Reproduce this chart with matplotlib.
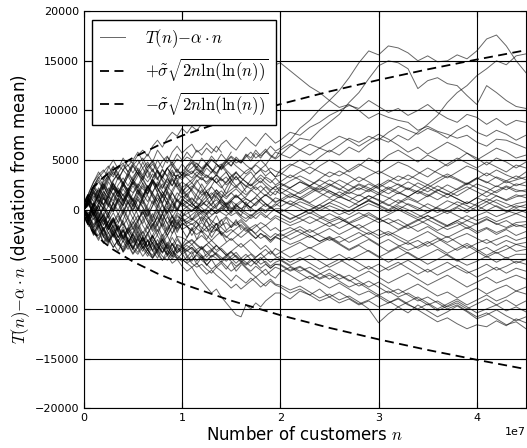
import matplotlib
matplotlib.use("Agg")
import matplotlib.pyplot as plt
import numpy as np

plt.rcParams['mathtext.fontset'] = 'cm'
plt.rcParams['font.family'] = ['DejaVu Sans']

# sample positions (millions of customers)
n_millions = [0, 0.5, 1, 1.5, 2, 2.5, 3, 3.5, 4, 4.5, 5, 5.5, 6, 6.5, 7, 7.5, 8, 8.5, 9, 9.5, 10,
              10.5, 11, 11.5, 12, 12.5, 13, 13.5, 14, 14.5, 15, 15.5, 16, 16.5, 17, 17.5, 18, 18.5, 19, 19.5, 20,
              21, 22, 23, 24, 25, 26, 27, 28, 29, 30, 31, 32, 33, 34, 35, 36, 37, 38, 39, 40,
              41, 42, 43, 44, 45]

# deviations T(n) - alpha*n of each simulated run, in hundreds
walk_01 = [0, 12, 22, 16, 30, 38, 33, 44, 40, 50, 47, 55, 60, 54, 64, 70, 63, 72, 78, 74, 82,
           77, 84, 80, 86, 90, 85, 94, 102, 98, 108, 116, 112, 122, 130, 126, 135, 142, 138, 146, 148,
           140, 132, 124, 118, 110, 103, 106, 100, 92, 97, 93, 90, 88, 80, 84, 79, 76, 72, 75, 68, 64, 71, 70, 66, 62]
walk_02 = [0, -8, 2, 10, 5, 14, 9, 20, 14, 22, 17, 26, 21, 16, 28, 23, 33, 27, 38, 31, 35,
           40, 36, 44, 38, 47, 41, 36, 45, 50, 44, 53, 48, 56, 52, 60, 54, 58, 64, 59, 62,
           70, 82, 90, 101, 110, 120, 133, 148, 160, 156, 165, 163, 158, 150, 155, 149, 150, 156, 152, 160, 172, 176, 165, 150, 138]
walk_03 = [0, 9, -3, -12, -6, 4, -2, 10, 4, 15, 9, 20, 13, 24, 17, 28, 21, 31, 24, 35, 30,
           36, 32, 38, 34, 42, 37, 46, 40, 48, 44, 51, 47, 55, 49, 57, 52, 59, 54, 51, 55,
           64, 72, 70, 80, 88, 96, 108, 118, 132, 145, 150, 148, 142, 122, 130, 133, 127, 125, 115, 106, 125, 118, 110, 104, 102]
walk_04 = [0, 14, 24, 18, 28, 34, 24, 17, 27, 36, 29, 38, 30, 22, 31, 40, 33, 42, 46, 37, 38,
           44, 47, 40, 36, 32, 38, 43, 46, 40, 35, 30, 34, 39, 42, 36, 41, 45, 38, 33, 35,
           44, 50, 45, 53, 60, 55, 63, 58, 66, 72, 68, 75, 70, 78, 86, 95, 108, 118, 125, 135, 142, 150, 146, 155, 157]
walk_05 = [0, 16, 28, 38, 30, 42, 50, 41, 52, 44, 50, 58, 49, 56, 48, 60, 53, 47, 58, 64, 57,
           62, 66, 58, 61, 67, 62, 58, 66, 70, 64, 60, 67, 73, 68, 64, 71, 77, 72, 67, 70,
           78, 75, 83, 88, 95, 100, 105, 102, 110, 104, 98, 102, 95, 100, 106, 98, 92, 88, 96, 93, 86, 92, 85, 90, 88]
walk_06 = [0, -6, 6, 16, 10, 22, 15, 25, 32, 24, 33, 40, 32, 22, 30, 24, 35, 42, 33, 41, 34,
           38, 42, 47, 41, 44, 50, 46, 42, 48, 53, 47, 50, 45, 41, 46, 50, 45, 52, 58, 56,
           52, 60, 66, 62, 58, 65, 72, 68, 74, 70, 78, 84, 80, 76, 82, 78, 72, 80, 85, 78, 74, 80, 76, 70, 75]
walk_07 = [0, 10, 4, 17, 26, 19, 30, 36, 27, 19, 28, 22, 31, 40, 32, 40, 30, 24, 34, 28, 36,
           32, 27, 34, 40, 46, 41, 37, 44, 49, 54, 50, 47, 53, 58, 52, 56, 61, 55, 52, 60,
           66, 60, 55, 62, 68, 74, 70, 64, 70, 76, 71, 65, 58, 63, 56, 62, 68, 63, 57, 50, 56, 62, 58, 52, 55]
walk_08 = [0, -10, -3, 7, 1, -8, 2, 12, 4, 15, 24, 16, 27, 19, 29, 21, 12, 22, 31, 23, 28,
           24, 20, 28, 33, 26, 32, 27, 33, 38, 30, 24, 28, 23, 30, 36, 40, 34, 38, 33, 40,
           46, 42, 36, 44, 50, 45, 38, 44, 52, 47, 55, 60, 54, 48, 55, 50, 44, 50, 57, 52, 45, 52, 48, 42, 48]
walk_09 = [0, 8, 19, 12, 23, 15, 26, 19, 9, 17, 27, 18, 10, 20, 31, 22, 14, 24, 17, 27, 18,
           23, 27, 21, 17, 24, 30, 35, 29, 33, 26, 22, 28, 34, 38, 31, 27, 33, 30, 25, 28,
           35, 30, 24, 31, 38, 34, 40, 46, 41, 36, 42, 48, 44, 38, 33, 40, 46, 52, 47, 42, 48, 43, 38, 45, 42]
walk_10 = [0, 7, -5, 4, 16, 8, 0, 11, 21, 13, 4, 13, 6, 16, 27, 18, 26, 16, 7, 17, 12,
           16, 20, 14, 9, 4, 10, 15, 19, 13, 17, 12, 16, 22, 26, 20, 24, 19, 14, 19, 16,
           22, 28, 24, 30, 25, 20, 27, 33, 28, 22, 28, 34, 30, 36, 42, 37, 32, 38, 44, 40, 34, 40, 35, 31, 38]
walk_11 = [0, -6, 7, 0, 12, 5, 17, 8, -2, 10, 3, 14, 24, 14, 6, 17, 7, 19, 11, 1, 11,
           7, 3, 9, 14, 18, 12, 17, 10, 6, 11, 15, 10, 13, 19, 23, 18, 14, 19, 24, 18,
           12, 18, 24, 20, 26, 21, 16, 22, 18, 24, 30, 25, 20, 27, 22, 28, 34, 30, 25, 31, 37, 32, 27, 30, 33]
walk_12 = [0, 10, 3, -9, 2, 13, 6, -5, 6, 17, 9, 0, 12, 22, 13, 2, 14, 5, 17, 8, 14,
           10, 6, 2, 8, 13, 17, 12, 8, 3, 9, 14, 10, 5, 2, 7, 11, 6, 1, 4, 8,
           14, 10, 16, 22, 17, 12, 18, 14, 20, 26, 21, 16, 22, 18, 13, 19, 25, 20, 26, 32, 28, 23, 29, 24, 28]
walk_13 = [0, -9, 2, -6, -15, -5, 7, -1, 10, 1, 12, 4, -5, 5, 17, 8, -3, 9, -1, 11, 5,
           9, 12, 7, 4, 10, 15, 20, 15, 11, 17, 21, 16, 11, 8, 13, 18, 23, 18, 15, 22,
           17, 12, 18, 24, 19, 14, 20, 26, 22, 17, 23, 18, 13, 19, 25, 20, 15, 21, 27, 22, 18, 24, 20, 26, 24]
walk_14 = [0, 6, 17, 9, 0, 10, 22, 13, 24, 34, 25, 34, 42, 32, 41, 32, 22, 32, 40, 30, 22,
           26, 30, 35, 31, 28, 33, 27, 22, 28, 34, 38, 32, 28, 24, 30, 35, 31, 27, 32, 27,
           22, 28, 23, 18, 24, 30, 25, 20, 26, 21, 16, 22, 28, 23, 18, 24, 19, 14, 20, 26, 22, 17, 23, 18, 20]
walk_15 = [0, -5, -15, -7, 4, -5, 6, 15, 6, 17, 8, -1, 10, 2, -8, 4, -4, 8, 17, 9, 3,
           7, 11, 6, 2, -3, 1, 6, 10, 5, 9, 14, 10, 5, 2, 6, 11, 15, 12, 8, 10,
           5, 11, 6, 1, 7, 13, 9, 4, 10, 16, 12, 7, 13, 19, 15, 10, 16, 11, 6, 12, 18, 14, 9, 13, 15]
walk_16 = [0, 13, 24, 33, 24, 36, 44, 34, 23, 34, 45, 36, 48, 38, 27, 38, 29, 19, 30, 22, 15,
           19, 24, 20, 15, 19, 23, 17, 12, 16, 20, 24, 19, 15, 20, 16, 11, 15, 11, 7, 10,
           16, 12, 7, 13, 19, 14, 9, 15, 10, 5, 11, 17, 13, 8, 14, 20, 16, 11, 6, 12, 8, 14, 10, 15, 12]
walk_17 = [0, -7, -18, -10, -22, -12, -3, -13, -3, 8, -1, 11, 3, -7, 4, 15, 6, -3, 8, 0, 7,
           3, -1, 4, -2, 1, 6, 10, 5, 2, -2, 3, 7, 11, 8, 4, 10, 6, 2, 6, 3,
           9, 4, -1, 5, 11, 7, 2, 8, 14, 10, 5, 0, 6, 2, -3, 3, 9, 5, 0, 6, 11, 7, 2, 6, 8]
walk_18 = [0, 10, 2, 14, 5, -4, 7, 19, 9, 20, 10, 1, 13, 24, 14, 4, 15, 6, -3, 10, 5,
           2, -2, 3, 7, 4, 0, -4, 1, 5, 9, 5, 1, 4, 9, 12, 7, 3, 7, 12, 10,
           6, 1, -4, 2, 7, 3, -2, 4, 9, 5, 0, 6, 11, 7, 2, -3, 2, 8, 4, -1, 5, 10, 6, 2, 5]
walk_19 = [0, 6, -7, 4, -9, -18, -8, -20, -10, 1, -9, 2, -8, -19, -9, 1, -9, -20, -12, -3, -7,
           -4, -1, 3, -1, -5, -1, 4, 8, 4, 1, 5, 9, 6, 2, -2, 2, 6, 3, -1, -3,
           3, 8, 4, -1, 4, 0, -5, 1, 6, 2, -3, 2, -3, -8, -3, 2, -2, 3, 8, 4, -1, 4, -1, -4, 0]
walk_20 = [0, -11, -3, -15, -26, -16, -28, -17, -30, -19, -8, -20, -10, 1, -11, -22, -12, -2, -14, -5, -12,
           -9, -5, -1, -5, -10, -6, -2, 2, -2, -6, -3, -8, -12, -7, -3, 1, -3, 2, -1, -4,
           -9, -5, 0, 5, 0, -5, -1, 4, 9, 4, -1, 4, 0, -5, -10, -6, -1, -6, -11, -6, -2, -7, -3, 1, -3]
walk_21 = [0, 9, 20, 11, 23, 33, 22, 13, 25, 16, 5, 17, 8, -3, 9, -1, -11, 2, -6, -14, -1,
           3, 6, 2, -3, 0, -5, -2, 3, 7, 2, -2, -6, -9, -5, -9, -4, -8, -3, 1, 1,
           -4, -9, -14, -9, -4, -9, -14, -10, -5, -10, -5, 0, -5, -10, -6, -11, -16, -11, -6, -11, -7, -12, -8, -4, -8]
walk_22 = [0, -6, 7, -1, 12, 3, 15, 6, -4, 7, -3, -12, 0, -9, -18, -6, -17, -7, -16, -19, -10,
           -14, -11, -7, -3, -7, -11, -15, -11, -7, -12, -16, -12, -17, -21, -17, -13, -16, -12, -8, -11,
           -16, -12, -7, -12, -17, -13, -8, -3, -8, -13, -9, -14, -19, -15, -10, -15, -20, -16, -11, -15, -10, -14, -18, -13, -12]
walk_23 = [0, 12, 23, 14, 26, 17, 29, 37, 26, 16, 28, 37, 26, 16, 28, 17, 6, 18, 8, -1, 10,
           7, 3, 0, 5, 9, 4, 1, -3, -6, -2, 2, -2, -5, -9, -5, -2, -6, -10, -6, -8,
           -13, -8, -3, -8, -13, -9, -14, -19, -14, -9, -14, -20, -15, -10, -15, -21, -16, -11, -16, -22, -18, -23, -19, -15, -18]
walk_24 = [0, -14, -25, -14, -27, -35, -24, -36, -25, -35, -24, -15, -27, -37, -26, -15, -27, -18, -7, -19, -14,
           -17, -21, -17, -13, -18, -23, -20, -25, -21, -16, -12, -17, -22, -18, -15, -20, -24, -28, -24, -27,
           -22, -17, -23, -18, -13, -19, -14, -20, -25, -20, -26, -21, -16, -22, -17, -23, -28, -23, -18, -24, -19, -25, -20, -26, -22]
walk_25 = [0, 6, 17, 6, 19, 10, -1, 11, 2, -8, 5, -5, -14, -3, -16, -6, 5, -6, -17, -7, -9,
           -12, -15, -11, -7, -12, -17, -21, -16, -13, -18, -14, -10, -15, -20, -24, -19, -16, -21, -18, -22,
           -18, -23, -28, -24, -19, -25, -20, -15, -21, -26, -22, -27, -32, -27, -22, -28, -33, -28, -24, -29, -34, -30, -26, -31, -28]
walk_26 = [0, -8, 3, -9, -20, -11, -23, -14, -3, -15, -26, -17, -28, -37, -26, -36, -25, -36, -24, -13, -20,
           -17, -14, -19, -23, -18, -14, -19, -24, -28, -23, -19, -15, -20, -25, -29, -24, -27, -31, -27, -24,
           -30, -25, -20, -26, -31, -27, -33, -28, -23, -29, -24, -30, -35, -31, -37, -32, -27, -33, -39, -34, -30, -36, -31, -35, -33]
walk_27 = [0, 11, 0, -12, -3, -15, -26, -16, -28, -18, -29, -39, -28, -17, -29, -20, -31, -22, -11, -23, -13,
           -17, -21, -25, -21, -26, -31, -26, -22, -27, -31, -27, -23, -18, -24, -29, -24, -28, -33, -28, -30,
           -35, -31, -26, -32, -28, -34, -40, -35, -30, -36, -42, -37, -33, -39, -34, -29, -35, -41, -36, -42, -38, -44, -40, -35, -38]
walk_28 = [0, -17, -8, -22, -33, -23, -34, -42, -31, -40, -30, -20, -32, -23, -34, -25, -14, -26, -36, -27, -28,
           -31, -35, -30, -26, -31, -36, -41, -37, -33, -29, -34, -38, -34, -30, -35, -40, -36, -41, -46, -43,
           -38, -33, -39, -34, -29, -35, -41, -36, -42, -48, -43, -38, -44, -50, -45, -40, -46, -52, -47, -42, -48, -43, -49, -45, -45]
walk_29 = [0, 6, -6, -17, -8, -20, -11, -23, -33, -22, -34, -25, -36, -44, -33, -42, -31, -41, -47, -36, -38,
           -34, -31, -36, -40, -35, -31, -36, -41, -46, -42, -38, -34, -39, -44, -48, -44, -40, -45, -39, -42,
           -48, -43, -38, -44, -50, -45, -51, -46, -41, -47, -53, -48, -43, -49, -55, -50, -45, -51, -56, -52, -47, -53, -48, -54, -50]
walk_30 = [0, -11, -22, -31, -20, -33, -24, -34, -42, -31, -40, -30, -39, -47, -36, -45, -51, -41, -48, -38, -45,
           -41, -38, -43, -48, -52, -47, -43, -39, -44, -49, -54, -49, -45, -50, -55, -50, -46, -42, -47, -50,
           -56, -51, -46, -52, -58, -53, -48, -54, -60, -55, -61, -56, -51, -57, -63, -58, -53, -59, -64, -60, -55, -61, -57, -52, -55]
walk_31 = [0, -6, 6, -5, -16, -6, -19, -28, -17, -30, -39, -28, -39, -30, -41, -49, -38, -46, -35, -43, -40,
           -36, -40, -44, -39, -35, -40, -45, -50, -46, -42, -47, -52, -56, -52, -48, -44, -49, -53, -49, -47,
           -53, -48, -54, -60, -55, -50, -56, -62, -57, -63, -58, -53, -59, -65, -60, -66, -61, -56, -62, -68, -63, -58, -64, -59, -62]
walk_32 = [0, -11, -21, -11, -24, -32, -22, -32, -38, -28, -37, -43, -33, -41, -46, -37, -43, -35, -42, -46, -50,
           -54, -50, -46, -51, -55, -60, -56, -52, -57, -62, -58, -54, -59, -64, -68, -64, -60, -66, -69, -63,
           -58, -64, -70, -65, -60, -66, -72, -67, -62, -68, -74, -69, -64, -70, -76, -71, -66, -72, -78, -73, -68, -74, -70, -66, -70]
walk_33 = [0, -14, -26, -18, -34, -28, -38, -31, -43, -36, -45, -38, -47, -40, -49, -42, -51, -46, -54, -50, -57,
           -62, -58, -66, -72, -78, -84, -80, -88, -94, -100, -106, -108, -96, -100, -94, -98, -92, -88, -84, -84,
           -90, -82, -86, -80, -88, -94, -90, -96, -92, -98, -94, -90, -96, -100, -95, -102, -97, -92, -98, -104, -100, -96, -102, -98, -103]
walk_34 = [0, -9, 1, -10, -21, -12, -23, -32, -21, -31, -40, -29, -39, -31, -42, -34, -44, -36, -46, -49, -52,
           -48, -54, -58, -55, -60, -64, -58, -62, -67, -72, -66, -70, -74, -69, -73, -78, -74, -70, -75, -76,
           -81, -77, -83, -89, -85, -91, -87, -93, -100, -114, -105, -98, -104, -96, -102, -108, -103, -97, -103, -110, -106, -101, -107, -112, -108]
walk_35 = [0, -7, -18, -8, -20, -28, -17, -28, -20, -31, -38, -27, -36, -25, -35, -41, -30, -39, -28, -37, -43,
           -39, -35, -41, -46, -51, -46, -49, -53, -48, -52, -57, -53, -58, -62, -57, -61, -66, -62, -58, -60,
           -66, -72, -67, -73, -79, -74, -80, -86, -82, -88, -94, -89, -95, -101, -107, -113, -109, -115, -120, -116, -118, -112, -117, -110, -114]
walk_36 = [0, -12, -2, -14, -5, -17, -27, -16, -28, -36, -25, -34, -42, -31, -41, -30, -39, -45, -34, -41, -38,
           -42, -38, -44, -49, -45, -41, -46, -51, -47, -43, -48, -53, -48, -45, -50, -55, -52, -57, -53, -51,
           -57, -62, -58, -64, -70, -65, -71, -77, -72, -78, -84, -80, -86, -92, -88, -94, -100, -96, -102, -108, -104, -110, -116, -113, -120]
walk_37 = [0, 9, -3, -14, -5, -17, -8, -20, -29, -19, -29, -38, -28, -37, -27, -36, -43, -33, -40, -30, -37,
           -41, -45, -40, -37, -43, -48, -44, -48, -52, -47, -43, -49, -53, -57, -52, -48, -54, -59, -55, -55,
           -61, -57, -63, -69, -64, -70, -66, -72, -78, -73, -79, -85, -80, -75, -81, -87, -83, -89, -84, -79, -85, -80, -76, -82, -78]
walk_38 = [0, -13, -23, -15, -27, -33, -25, -35, -40, -31, -40, -45, -37, -44, -49, -40, -47, -51, -42, -48, -50,
           -54, -58, -54, -60, -65, -61, -66, -70, -74, -79, -75, -80, -76, -72, -68, -73, -77, -72, -76, -78,
           -84, -80, -86, -92, -88, -83, -89, -95, -91, -86, -92, -98, -93, -88, -94, -100, -95, -90, -96, -91, -86, -92, -88, -82, -85]
walk_39 = [0, 7, -6, 4, -9, -20, -9, -22, -11, -24, -33, -22, -32, -41, -30, -39, -28, -38, -45, -35, -37,
           -33, -30, -35, -39, -43, -40, -36, -41, -46, -50, -46, -51, -55, -50, -54, -59, -55, -59, -55, -56,
           -62, -58, -64, -70, -66, -72, -78, -74, -80, -86, -82, -88, -84, -90, -96, -92, -98, -94, -100, -95, -90, -96, -91, -97, -92]
walk_40 = [0, 12, 23, 30, 21, 32, 40, 31, 40, 45, 37, 46, 52, 42, 50, 41, 49, 54, 44, 51, 48,
           53, 50, 46, 42, 47, 51, 46, 41, 45, 49, 44, 40, 36, 40, 45, 41, 38, 42, 39, 37,
           32, 38, 43, 38, 33, 39, 34, 28, 34, 39, 34, 29, 35, 30, 25, 31, 36, 31, 26, 32, 27, 33, 29, 34, 30]
walk_41 = [0, -7, 4, 15, 5, 17, 27, 16, 28, 19, 8, 20, 10, -1, -12, -2, -13, -22, -11, -21, -15,
           -12, -9, -13, -18, -22, -18, -14, -18, -23, -20, -24, -28, -24, -20, -25, -29, -26, -31, -27, -30,
           -25, -20, -26, -32, -27, -33, -28, -23, -29, -35, -30, -36, -41, -37, -32, -38, -44, -39, -34, -40, -46, -41, -36, -42, -40]
walk_42 = [0, 12, 24, 32, 38, 44, 35, 42, 47, 38, 45, 50, 42, 48, 40, 31, 41, 33, 24, 35, 32,
           36, 39, 34, 30, 35, 31, 27, 31, 25, 29, 33, 28, 24, 21, 25, 29, 24, 20, 23, 26,
           21, 16, 22, 17, 12, 18, 13, 8, 14, 9, 4, 10, 5, 0, 6, 1, -4, 2, -3, 3, 8, 3, -2, 4, 2]
walk_43 = [0, -9, -20, -29, -18, -31, -20, -32, -21, -34, -23, -12, -24, -15, -4, -16, -5, 4, -8, 1, -3,
           -7, -10, -5, -1, -4, 1, -4, -1, 3, 0, 4, 1, -3, -6, -2, 2, -1, 3, -1, -4,
           -10, -5, 0, -6, -11, -7, -13, -8, -3, -9, -14, -10, -16, -11, -6, -12, -17, -13, -19, -14, -9, -15, -11, -17, -15]
walk_44 = [0, 17, 28, 35, 40, 33, 43, 37, 45, 38, 47, 40, 33, 43, 48, 39, 32, 42, 35, 34, 38,
           34, 37, 41, 38, 34, 30, 35, 31, 27, 33, 37, 32, 28, 24, 28, 32, 27, 23, 20, 23,
           29, 34, 29, 24, 30, 25, 19, 25, 20, 15, 21, 26, 21, 16, 22, 17, 12, 18, 23, 18, 13, 19, 24, 20, 18]

# runs that stay inside the dense early band, in hundreds
short_01 = [0, 15, 8, 22, 14, 28, 20, 33, 26, 38, 30, 42, 35, 46, 38, 50, 42, 53, 47, 56, 50, 58, 52, 60, 55, 62, 57, 64, 58]
short_02 = [0, -12, -5, -18, -10, -24, -15, -28, -20, -32, -25, -36, -28, -40, -33, -44, -36, -46, -40, -50, -44, -52, -46, -55, -48, -56, -50, -58, -54, -60, -53, -62, -56]
short_03 = [0, 8, 18, 10, 4, 14, 24, 16, 8, 18, 28, 20, 12, 22, 30, 22, 14, 24, 32, 24, 16, 26, 18, 10, 20, 12, 4, 14, 6, -2, 8, 0, -6, 4, -2]
short_04 = [0, -6, -16, -8, 2, -8, -18, -10, 0, -10, -20, -12, -2, -12, -22, -14, -4, -14, -24, -16, -6, -16, -26, -18, -8, -18, -28, -20, -10, -20]
short_05 = [0, 10, 20, 28, 20, 30, 38, 30, 40, 34, 44, 36, 30, 40, 46, 38, 32, 42, 48, 40, 34, 44, 50, 42, 36, 46, 40, 34, 44, 38, 30, 38]
short_06 = [0, -10, -20, -26, -18, -30, -38, -30, -42, -34, -44, -36, -30, -40, -48, -40, -34, -44, -50, -42, -36, -46, -52, -44, -38, -48, -42, -36]
short_07 = [0, 5, -4, 6, 14, 6, -2, 8, 16, 8, 0, 10, 2, -6, 4, 12, 4, -4, 6, -2, 8, 16, 8, 0, 10, 18, 10, 2, 12, 4, -4, 6, -2, 8, 0]
short_08 = [0, -4, 6, -4, -12, -4, -14, -6, -16, -8, -18, -10, -2, -12, -20, -12, -4, -14, -6, -16, -8, 0, -10, -2, -12, -4, -14, -6, -16, -8, -18, -10, -20]
short_09 = [0, 6, 14, 8, 18, 12, 22, 16, 26, 20, 30, 24, 34, 28, 36, 30, 40, 34, 44, 38, 46, 40, 48, 42, 52, 46, 54, 48, 56, 50, 58]
short_10 = [0, -8, -2, -12, -6, -16, -10, -20, -14, -24, -18, -28, -22, -32, -26, -36, -30, -40, -34, -44, -38, -48, -42, -52, -46, -56, -50]
short_11 = [0, 12, 4, 16, 24, 14, 26, 18, 10, 20, 30, 22, 14, 24, 16, 8, 18, 10, 2, 12, 22, 14, 6, 16, 26, 18, 10, 20, 12, 22, 30]
short_12 = [0, -14, -24, -16, -28, -20, -10, -22, -30, -22, -12, -24, -32, -24, -14, -26, -34, -26, -16, -28, -36, -28, -18, -30, -20, -10, -22, -14, -26]
short_13 = [0, 4, 12, 20, 12, 4, 14, 22, 14, 6, 16, 24, 16, 8, 18, 26, 18, 10, 20, 28, 20, 12, 22, 30, 22, 14, 24, 32, 24, 16, 26, 34, 26, 18]
short_14 = [0, -3, -10, -2, -12, -20, -12, -4, -14, -22, -14, -6, -16, -24, -16, -8, -18, -26, -18, -10, -20, -28, -20, -12, -22, -30, -22, -14, -24, -32]

walks = [walk_01, walk_02, walk_03, walk_04, walk_05, walk_06, walk_07, walk_08, walk_09, walk_10,
         walk_11, walk_12, walk_13, walk_14, walk_15, walk_16, walk_17, walk_18, walk_19, walk_20,
         walk_21, walk_22, walk_23, walk_24, walk_25, walk_26, walk_27, walk_28, walk_29, walk_30,
         walk_31, walk_32, walk_33, walk_34, walk_35, walk_36, walk_37, walk_38, walk_39, walk_40,
         walk_41, walk_42, walk_43, walk_44]
short_walks = [short_01, short_02, short_03, short_04, short_05, short_06, short_07,
               short_08, short_09, short_10, short_11, short_12, short_13, short_14]

# envelope sigma*sqrt(2 n ln ln n)
env_n_millions = [0.1, 0.25, 0.5, 1, 2, 3, 5, 7.5, 10, 15, 20, 25, 30, 35, 40, 45]
env_values = [700, 1120, 1600, 2290, 3270, 4030, 5230, 6440, 7460, 9170, 10630, 11910, 13070, 14140, 15130, 16070]

fig = plt.figure(figsize=(5.27, 4.48), dpi=100)
ax = fig.add_axes([0.159, 0.089, 0.839, 0.886])

n = np.array(n_millions) * 1e6
line_kw = dict(color='black', lw=0.7, alpha=0.6)
for i, w in enumerate(walks):
    ax.plot(n, np.array(w) * 100, **line_kw,
            label=r'$T(n){-}\alpha\cdot n$' if i == 0 else None)
for w in short_walks:
    ax.plot(n[:len(w)], np.array(w) * 100, **line_kw)

en = np.array(env_n_millions) * 1e6
ev = np.array(env_values)
ax.plot(en, ev, color='black', lw=1.3, dashes=(5, 3),
        label=r'$+\tilde{\sigma}\sqrt{2n\ln(\ln(n))}$')
ax.plot(en, -ev, color='black', lw=1.3, dashes=(5, 3),
        label=r'$-\tilde{\sigma}\sqrt{2n\ln(\ln(n))}$')

ax.set_xlim(0, 4.5e7)
ax.set_ylim(-20000, 20000)
ax.set_yticks([-20000, -15000, -10000, -5000, 0, 5000, 10000, 15000, 20000])
ax.set_xticks([0, 1e7, 2e7, 3e7, 4e7])
ax.grid(True, color='black', linestyle='-', lw=0.8)
ax.set_axisbelow(False)
ax.tick_params(labelsize=8, direction='in', top=True, right=True, length=4)
ax.xaxis.get_offset_text().set_fontsize(8)

ax.set_xlabel(r'Number of customers $n$', fontsize=12, labelpad=2)
ax.set_ylabel(r'$T(n){-}\alpha\cdot n$ (deviation from mean)', fontsize=12, labelpad=2)

leg = ax.legend(loc='upper left', fontsize=12, fancybox=False, framealpha=1,
                edgecolor='black', handlelength=1.5, handletextpad=1.2,
                labelspacing=0.4, borderpad=0.45, borderaxespad=0.5)
leg.get_frame().set_linewidth(1.0)
leg.set_zorder(10)

fig.savefig('out.png', dpi=100)
